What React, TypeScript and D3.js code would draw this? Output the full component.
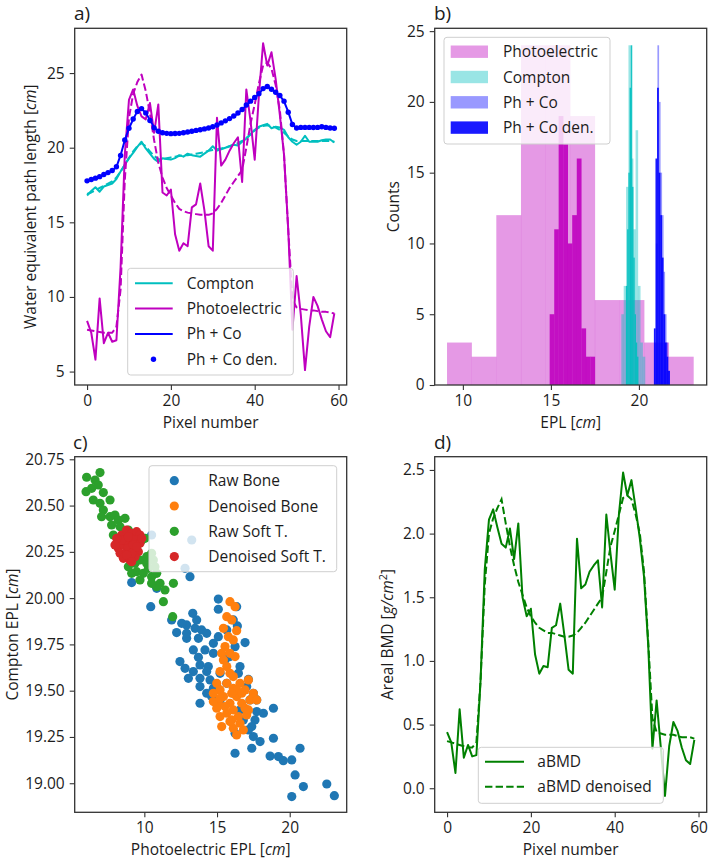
import { useEffect, useRef } from "react";
import * as d3 from "d3";

// ---------- a) / d) profiles along the pixel line ----------
const PIXELS = d3.range(60);

const comptonRaw = [16.8, 17.1, 17.35, 17.05, 17.4, 17.5, 17.6, 17.9, 18.4, 18.85, 19.3, 19.65, 20.05, 20.4, 19.95, 19.6, 19.25, 19.05, 19.3, 19.25,
  19.2, 19.3, 19.5, 19.4, 19.6, 19.5, 19.45, 19.4, 19.6, 19.8, 20.1, 19.8, 19.9, 20.0, 20.1, 20.2, 20.15, 20.4, 20.6, 20.9,
  21.2, 21.4, 21.5, 21.6, 21.3, 21.4, 21.35, 21.2, 20.7, 20.4, 20.2, 20.4, 20.8, 20.4, 20.4, 20.4, 20.5, 20.55, 20.55, 20.35];
const comptonDen = [16.9, 17.0, 17.15, 17.3, 17.45, 17.6, 17.75, 18.0, 18.4, 18.85, 19.3, 19.75, 20.1, 20.3, 20.1, 19.75, 19.45, 19.25, 19.2, 19.3,
  19.35, 19.4, 19.45, 19.5, 19.5, 19.55, 19.6, 19.65, 19.7, 19.8, 19.85, 19.9, 19.95, 20.0, 20.1, 20.2, 20.3, 20.45, 20.65, 20.9,
  21.15, 21.35, 21.45, 21.5, 21.45, 21.35, 21.2, 21.0, 20.75, 20.55, 20.45, 20.45, 20.45, 20.45, 20.45, 20.45, 20.45, 20.45, 20.45, 20.4];
const photoRaw = [8.4, 7.6, 5.8, 9.9, 6.9, 7.6, 7.0, 7.1, 12.0, 19.5, 23.2, 23.9, 22.8, 22.1, 21.9, 23.0, 21.0, 22.9, 17.0, 16.8,
  17.2, 14.2, 13.1, 13.6, 13.4, 16.0, 16.2, 17.6, 15.8, 13.4, 13.1, 22.0, 18.8, 19.2, 19.8, 20.3, 20.7, 17.7, 23.9, 21.8,
  19.2, 23.5, 27.0, 25.5, 26.4, 24.6, 22.2, 19.5, 14.5, 7.8, 11.4, 8.8, 5.1, 8.0, 10.0, 9.4, 8.5, 7.7, 7.3, 8.9];
const photoDen = [7.8, 7.75, 7.7, 7.65, 7.6, 7.6, 7.6, 8.0, 10.5, 17.8, 22.0, 23.6, 24.4, 24.9, 23.8, 22.3, 20.5, 19.0, 18.0, 17.3,
  16.8, 16.3, 15.9, 15.75, 15.65, 15.6, 15.55, 15.5, 15.5, 15.5, 15.6, 15.9, 16.3, 16.8, 17.3, 17.7, 18.1, 18.5, 20.0, 21.6,
  22.9, 24.3, 25.5, 25.7, 25.3, 24.2, 22.5, 19.5, 14.5, 9.8, 9.3, 9.2, 9.15, 9.1, 9.1, 9.05, 9.0, 9.0, 8.95, 8.9];
const phCo = [17.75, 17.85, 17.95, 18.05, 18.2, 18.35, 18.45, 18.7, 19.5, 20.5, 21.3, 21.9, 22.45, 22.6, 22.35, 21.85, 21.35, 21.1, 21.0, 20.95,
  20.95, 20.95, 20.95, 21.0, 21.05, 21.1, 21.15, 21.2, 21.25, 21.3, 21.38, 21.5, 21.65, 21.8, 21.95, 22.1, 22.3, 22.55, 22.85, 23.1,
  23.35, 23.6, 23.95, 24.1, 23.9, 23.7, 23.5, 23.1, 22.4, 21.55, 21.3, 21.35, 21.35, 21.35, 21.35, 21.35, 21.4, 21.35, 21.3, 21.28];
const phCoDen = [17.78, 17.87, 17.96, 18.06, 18.2, 18.33, 18.47, 18.72, 19.48, 20.52, 21.3, 21.92, 22.43, 22.62, 22.33, 21.82, 21.33, 21.1, 21.0, 20.96,
  20.94, 20.95, 20.96, 21.0, 21.05, 21.1, 21.16, 21.2, 21.26, 21.32, 21.4, 21.52, 21.66, 21.8, 21.95, 22.12, 22.32, 22.56, 22.86, 23.12,
  23.37, 23.62, 23.96, 24.1, 23.92, 23.72, 23.5, 23.12, 22.38, 21.55, 21.32, 21.36, 21.36, 21.36, 21.35, 21.36, 21.4, 21.36, 21.32, 21.3];

const abmd = [0.44, 0.36, 0.12, 0.62, 0.24, 0.34, 0.25, 0.26, 0.85, 1.72, 2.11, 2.19, 2.05, 1.92, 1.89, 2.04, 1.8, 2.08, 1.5, 1.35,
  1.41, 1.05, 0.9, 0.96, 0.95, 1.26, 1.28, 1.45, 1.2, 0.93, 0.9, 1.96, 1.57, 1.6, 1.7, 1.75, 1.79, 1.42, 2.15, 1.84,
  1.56, 2.15, 2.48, 2.3, 2.42, 2.2, 1.96, 1.66, 1.12, 0.31, 0.69, 0.32, -0.06, 0.33, 0.52, 0.45, 0.32, 0.22, 0.19, 0.38];
const abmdDen = [0.37, 0.36, 0.35, 0.34, 0.33, 0.32, 0.32, 0.36, 0.85, 1.6, 2.0, 2.12, 2.2, 2.27, 2.08, 1.9, 1.75, 1.62, 1.52, 1.42,
  1.35, 1.3, 1.26, 1.24, 1.22, 1.22, 1.21, 1.2, 1.19, 1.19, 1.2, 1.22, 1.26, 1.3, 1.35, 1.4, 1.45, 1.5, 1.7, 1.9,
  2.02, 2.15, 2.28, 2.3, 2.27, 2.15, 2.0, 1.7, 1.15, 0.55, 0.44, 0.43, 0.42, 0.42, 0.42, 0.41, 0.4, 0.4, 0.4, 0.39];

// ---------- b) histograms (bin edges + counts) ----------
const photoRawEdges = [9.1, 10.5, 11.9, 13.3, 14.7, 16.1, 17.5, 18.9, 20.3, 21.7, 23.1];
const photoRawCounts = [3, 2, 12, 24, 24, 19, 6, 6, 3, 2];
const photoDenEdges = [14.93, 15.19, 15.44, 15.7, 15.96, 16.21, 16.47, 16.73, 16.99, 17.24, 17.5];
const photoDenCounts = [5, 11, 19, 17, 10, 12, 16, 4, 2, 2];
const comptonRawEdges = [19.0, 19.135, 19.27, 19.405, 19.54, 19.675, 19.81, 19.945, 20.08, 20.215, 20.35];
const comptonRawCounts = [5, 7, 14, 24, 16, 11, 18, 7, 3, 2];
const comptonDenEdges = [19.26, 19.33, 19.4, 19.47, 19.54, 19.61, 19.68, 19.75, 19.82, 19.89, 19.96];
const comptonDenCounts = [7, 11, 15, 21, 24, 14, 9, 5, 3, 2];
const phCoRawEdges = [20.88, 20.965, 21.05, 21.135, 21.22, 21.305, 21.39, 21.475, 21.56, 21.645, 21.73];
const phCoRawCounts = [3, 10, 24, 20, 15, 12, 8, 5, 3, 1];
const phCoDenEdges = [20.85, 20.94, 21.03, 21.12, 21.21, 21.3, 21.39, 21.48, 21.57, 21.66, 21.75];
const phCoDenCounts = [4, 16, 21, 15, 12, 9, 5, 3, 2, 1];

// ---------- c) scatter [photoelectric EPL, compton EPL] ----------
const boneRaw: [number, number][] = [
  [10.5, 20.341], [13.26, 20.314], [12.8, 20.161], [13.14, 20.116], [9.13, 20.084], [10.85, 20.053], [10.44, 19.954], [15.09, 19.995],
  [15.09, 19.94], [16.35, 19.954], [13.33, 19.918], [11.88, 19.882], [16.4, 19.85], [12.91, 19.855], [12.22, 19.814], [13.49, 19.837],
  [13.94, 19.828], [14.29, 19.81], [15.09, 19.792], [16.93, 19.76], [13.72, 19.783], [12.91, 19.783], [14.75, 19.756], [14.17, 19.72],
  [13.37, 19.72], [16.24, 19.738], [13.72, 19.68], [12.45, 19.657], [13.83, 19.639], [14.4, 19.63], [12.8, 19.621], [13.37, 19.603],
  [14.29, 19.603], [13.03, 19.567], [13.83, 19.567], [14.52, 19.558], [16.47, 19.594], [17.16, 19.561], [14.75, 19.513], [13.83, 19.432],
  [14.63, 19.468], [17.5, 19.486], [17.73, 19.45], [18.88, 19.405], [17.73, 19.387], [17.61, 19.342], [17.39, 19.306], [16.24, 19.27],
  [17.5, 19.252], [18.88, 19.243], [17.96, 19.225], [17.39, 19.189], [16.24, 19.162], [18.65, 19.147], [19.22, 19.144], [19.56, 19.122],
  [20.14, 19.126], [20.71, 19.189], [20.37, 19.045], [20.94, 18.982], [20.14, 18.928], [22.55, 18.996], [23.07, 18.933], [16.58, 19.63],
  [15.89, 19.684], [15.21, 19.594], [15.67, 19.54], [14.98, 19.522], [16.12, 19.486], [15.21, 19.45], [17.04, 19.522], [16.81, 19.342],
  [16.58, 19.396], [18.19, 19.378], [16.12, 19.882], [15.67, 19.828], [13.6, 19.882], [12.57, 19.864], [14.75, 19.702], [15.55, 19.666],
  [13.83, 19.522], [14.29, 19.486], [12.91, 19.81], [17.16, 19.288], [17.27, 19.45],
];
const boneDen: [number, number][] = [
  [15.89, 19.981], [16.24, 19.954], [15.67, 19.9], [16.01, 19.882], [15.44, 19.837], [16.35, 19.824], [15.78, 19.792], [16.12, 19.774],
  [15.55, 19.738], [16.24, 19.684], [15.32, 19.702], [15.89, 19.702], [15.44, 19.666], [15.67, 19.63], [15.21, 19.603], [15.89, 19.594],
  [16.12, 19.576], [14.98, 19.54], [15.67, 19.54], [16.58, 19.54], [17.16, 19.558], [15.21, 19.504], [16.12, 19.513], [16.93, 19.504],
  [17.5, 19.486], [14.75, 19.486], [15.44, 19.468], [16.35, 19.468], [17.27, 19.45], [15.09, 19.432], [15.89, 19.432], [16.7, 19.432],
  [17.5, 19.459], [14.98, 19.405], [16.12, 19.396], [16.93, 19.405], [15.67, 19.378], [16.47, 19.36], [17.04, 19.369], [15.21, 19.36],
  [16.01, 19.342], [16.58, 19.324], [15.32, 19.306], [16.12, 19.297], [16.81, 19.288], [16.35, 19.261], [15.89, 19.333], [17.16, 19.396],
  [17.73, 19.45], [14.75, 19.441], [15.55, 19.414], [16.35, 19.504], [16.7, 19.486], [16.01, 19.486], [15.21, 19.459],
];
const softRaw: [number, number][] = [
  [6.03, 20.653], [6.61, 20.638], [6.95, 20.678], [5.99, 20.575], [6.38, 20.593], [6.83, 20.611], [7.18, 20.57], [6.49, 20.53],
  [6.95, 20.512], [7.64, 20.53], [7.18, 20.476], [7.06, 20.44], [7.64, 20.44], [7.98, 20.449], [8.21, 20.422], [8.67, 20.431],
  [7.75, 20.395], [8.33, 20.386], [8.9, 20.368], [7.87, 20.341], [8.56, 20.35], [9.13, 20.323], [9.47, 20.287], [9.82, 20.314],
  [10.05, 20.323], [9.24, 20.242], [9.7, 20.206], [10.16, 20.188], [10.62, 20.206], [10.73, 20.17], [9.47, 20.143], [9.93, 20.134],
  [10.5, 20.116], [11.08, 20.08], [10.85, 20.062], [11.42, 20.044], [11.31, 19.981], [12.0, 20.08], [11.95, 19.9], [10.16, 20.224],
  [9.13, 20.134], [9.7, 20.098], [10.5, 20.08], [10.28, 20.161], [10.85, 20.134], [8.9, 20.17], [9.36, 20.188], [10.5, 20.242],
];
const softDen: [number, number][] = [
  [8.1, 20.296], [8.44, 20.341], [8.78, 20.368], [9.13, 20.35], [9.47, 20.359], [9.7, 20.341], [8.21, 20.269], [8.6, 20.287],
  [9.01, 20.314], [9.36, 20.314], [9.7, 20.296], [8.33, 20.242], [8.78, 20.251], [9.24, 20.26], [9.59, 20.251], [8.56, 20.215],
  [9.01, 20.206], [9.36, 20.224], [8.9, 20.278], [8.67, 20.314], [9.24, 20.287], [8.44, 20.314], [8.1, 20.323], [9.13, 20.242],
  [9.47, 20.278], [8.78, 20.233], [9.13, 20.197], [9.82, 20.323], [7.98, 20.287], [8.9, 20.332],
];

const FONT = "'Open Sans', 'DejaVu Sans', sans-serif";
const FS = 15.5;
const AX = "#333333";
const TXT = "#1c1c1c";
const C = "#00bfbf";
const M = "#bf00bf";
const B = "#0000ff";
const GREEN = "#008000";
const DASH = "7.4,3.2";

type Box = { l: number; r: number; t: number; b: number };
const BOX_A: Box = { l: 74.7, r: 346.7, t: 28.3, b: 385 };
const BOX_B: Box = { l: 434.7, r: 706.7, t: 28.3, b: 385 };
const BOX_C: Box = { l: 74.7, r: 346.7, t: 456.7, b: 812.3 };
const BOX_D: Box = { l: 434.7, r: 706.7, t: 456.7, b: 812.3 };

type Sel = d3.Selection<SVGGElement, unknown, null, undefined>;
type Lin = d3.ScaleLinear<number, number>;

function styleAxis(a: Sel) {
  a.select(".domain").remove();
  a.selectAll("line").attr("stroke", AX).attr("stroke-width", 1.1);
  a.selectAll("text").attr("fill", TXT).style("font-size", `${FS}px`).style("font-family", FONT);
}

function axes(g: Sel, box: Box, x: Lin, y: Lin, xTicks: number[], yTicks: number[], yFmt: (d: number) => string) {
  g.append("g")
    .attr("transform", `translate(0,${box.b})`)
    .call(d3.axisBottom(x).tickValues(xTicks).tickSize(5).tickSizeOuter(0).tickPadding(5).tickFormat((d) => String(d)))
    .call(styleAxis);
  g.append("g")
    .attr("transform", `translate(${box.l},0)`)
    .call(d3.axisLeft(y).tickValues(yTicks).tickSize(5).tickSizeOuter(0).tickPadding(5).tickFormat((d) => yFmt(d as number)))
    .call(styleAxis);
  g.append("rect")
    .attr("x", box.l).attr("y", box.t)
    .attr("width", box.r - box.l).attr("height", box.b - box.t)
    .attr("fill", "none").attr("stroke", AX).attr("stroke-width", 1.3);
}

// text built from [string, italic?, superscript?] parts
function label(g: Sel, x: number, y: number, parts: [string, boolean?, boolean?][], rotate = false, size = FS) {
  const t = g.append("text")
    .attr("transform", `translate(${x},${y})${rotate ? " rotate(-90)" : ""}`)
    .attr("text-anchor", "middle")
    .attr("fill", TXT)
    .style("font-family", FONT)
    .style("font-size", `${size}px`);
  let up = false;
  parts.forEach(([s, it, sup]) => {
    const ts = t.append("tspan").text(s);
    if (it) ts.style("font-style", "italic");
    if (sup) { ts.attr("dy", -6).style("font-size", `${size * 0.7}px`); up = true; }
    else if (up) { ts.attr("dy", 6); up = false; }
  });
}

function legendBox(g: Sel, x: number, y: number, w: number, h: number) {
  g.append("rect")
    .attr("x", x).attr("y", y).attr("width", w).attr("height", h).attr("rx", 3)
    .attr("fill", "white").attr("fill-opacity", 0.8)
    .attr("stroke", "#cfcfcf").attr("stroke-width", 1);
}

function legendText(g: Sel, x: number, y: number, s: string) {
  g.append("text").attr("x", x).attr("y", y).attr("dy", "0.36em")
    .attr("fill", TXT).style("font-family", FONT).style("font-size", `${FS}px`).text(s);
}

function hist(g: Sel, x: Lin, y: Lin, edges: number[], counts: number[], color: string, alpha: number) {
  g.append("g")
    .selectAll("rect")
    .data(counts)
    .join("rect")
    .attr("x", (_, i) => x(edges[i]))
    .attr("width", (_, i) => x(edges[i + 1]) - x(edges[i]) + 0.2)
    .attr("y", (d) => y(d))
    .attr("height", (d) => y(0) - y(d))
    .attr("fill", color)
    .attr("fill-opacity", alpha);
}

export default function App() {
  const svgRef = useRef<SVGSVGElement>(null);

  useEffect(() => {
    if (!svgRef.current) return;
    const svg = d3.select(svgRef.current);
    svg.selectAll("*").remove();
    const root = svg.append("g") as unknown as Sel;

    // ---------------- a) ----------------
    const a = root.append("g") as Sel;
    const xA = d3.scaleLinear().domain([-2.95, 61.95]).range([BOX_A.l, BOX_A.r]);
    const yA = d3.scaleLinear().domain([4.1, 28.0]).range([BOX_A.b, BOX_A.t]);
    const lineA = d3.line<number>().x((_, i) => xA(PIXELS[i])).y((d) => yA(d));
    const series: [number[], string, boolean][] = [
      [comptonRaw, C, false], [comptonDen, C, true],
      [photoRaw, M, false], [photoDen, M, true],
      [phCo, B, false],
    ];
    series.forEach(([vals, col, dashed]) => {
      a.append("path").attr("d", lineA(vals)).attr("fill", "none")
        .attr("stroke", col).attr("stroke-width", 2)
        .attr("stroke-linejoin", "round")
        .attr("stroke-dasharray", dashed ? DASH : null);
    });
    a.append("g").selectAll("circle").data(phCoDen).join("circle")
      .attr("cx", (_, i) => xA(PIXELS[i])).attr("cy", (d) => yA(d)).attr("r", 2.7).attr("fill", B);
    axes(a, BOX_A, xA, yA, [0, 20, 40, 60], [5, 10, 15, 20, 25], (d) => String(d));
    legendBox(a, 127.7, 268.3, 165.6, 106.7);
    const legA: [string, string][] = [["Compton", C], ["Photoelectric", M], ["Ph + Co", B]];
    legA.forEach(([s, col], i) => {
      const yy = 283.3 + i * 25.3;
      a.append("line").attr("x1", 135).attr("x2", 172.7).attr("y1", yy).attr("y2", yy)
        .attr("stroke", col).attr("stroke-width", 2);
      legendText(a, 186.7, yy, s);
    });
    a.append("circle").attr("cx", 153.5).attr("cy", 359.3).attr("r", 2.7).attr("fill", B);
    legendText(a, 186.7, 359.3, "Ph + Co den.");
    label(a, 210.7, 428, [["Pixel number"]]);
    label(a, 36, 206.7, [["Water equivalent path length ["], ["cm", true], ["]"]], true);

    // ---------------- b) ----------------
    const b = root.append("g") as Sel;
    const xB = d3.scaleLinear().domain([8.4, 23.85]).range([BOX_B.l, BOX_B.r]);
    const yB = d3.scaleLinear().domain([0, 25.2]).range([BOX_B.b, BOX_B.t]);
    hist(b, xB, yB, photoRawEdges, photoRawCounts, M, 0.4);
    hist(b, xB, yB, photoDenEdges, photoDenCounts, M, 0.9);
    hist(b, xB, yB, comptonRawEdges, comptonRawCounts, C, 0.4);
    hist(b, xB, yB, comptonDenEdges, comptonDenCounts, C, 0.9);
    hist(b, xB, yB, phCoRawEdges, phCoRawCounts, B, 0.4);
    hist(b, xB, yB, phCoDenEdges, phCoDenCounts, B, 0.9);
    axes(b, BOX_B, xB, yB, [10, 15, 20], [0, 5, 10, 15, 20, 25], (d) => String(d));
    legendBox(b, 444, 37.3, 166, 106.7);
    const legB: [string, string, number][] = [["Photoelectric", M, 0.4], ["Compton", C, 0.4], ["Ph + Co", B, 0.4], ["Ph + Co den.", B, 0.9]];
    legB.forEach(([s, col, al], i) => {
      const yy = 51.7 + i * 25.3;
      b.append("rect").attr("x", 450.7).attr("y", yy - 6.2).attr("width", 37.3).attr("height", 12.4)
        .attr("fill", col).attr("fill-opacity", al);
      legendText(b, 503, yy, s);
    });
    label(b, 570.7, 428, [["EPL ["], ["cm", true], ["]"]]);
    label(b, 398.5, 206.7, [["Counts"]], true);

    // ---------------- c) ----------------
    const c = root.append("g") as Sel;
    const xC = d3.scaleLinear().domain([5.21, 23.92]).range([BOX_C.l, BOX_C.r]);
    const yC = d3.scaleLinear().domain([18.843, 20.764]).range([BOX_C.b, BOX_C.t]);
    const groups: [[number, number][], string, string][] = [
      [boneRaw, "#1f77b4", "Raw Bone"],
      [boneDen, "#ff7f0e", "Denoised Bone"],
      [softRaw, "#2ca02c", "Raw Soft T."],
      [softDen, "#d62728", "Denoised Soft T."],
    ];
    groups.forEach(([pts, col]) => {
      c.append("g").selectAll("circle").data(pts).join("circle")
        .attr("cx", (d) => xC(d[0])).attr("cy", (d) => yC(d[1])).attr("r", 4.6).attr("fill", col);
    });
    axes(c, BOX_C, xC, yC, [10, 15, 20], [19.0, 19.25, 19.5, 19.75, 20.0, 20.25, 20.5, 20.75], (d) => d.toFixed(2));
    legendBox(c, 149, 465.7, 187.7, 106);
    groups.forEach(([, col, s], i) => {
      const yy = 480.7 + i * 25.3;
      c.append("circle").attr("cx", 174.3).attr("cy", yy).attr("r", 4.6).attr("fill", col);
      legendText(c, 208.3, yy, s);
    });
    label(c, 210.7, 855, [["Photoelectric EPL ["], ["cm", true], ["]"]]);
    label(c, 17.5, 634.5, [["Compton EPL ["], ["cm", true], ["]"]], true);

    // ---------------- d) ----------------
    const d = root.append("g") as Sel;
    const xD = d3.scaleLinear().domain([-2.95, 61.95]).range([BOX_D.l, BOX_D.r]);
    const yD = d3.scaleLinear().domain([-0.189, 2.604]).range([BOX_D.b, BOX_D.t]);
    const lineD = d3.line<number>().x((_, i) => xD(PIXELS[i])).y((v) => yD(v));
    d.append("path").attr("d", lineD(abmd)).attr("fill", "none").attr("stroke", GREEN).attr("stroke-width", 2).attr("stroke-linejoin", "round");
    d.append("path").attr("d", lineD(abmdDen)).attr("fill", "none").attr("stroke", GREEN).attr("stroke-width", 2).attr("stroke-dasharray", DASH);
    axes(d, BOX_D, xD, yD, [0, 20, 40, 60], [0, 0.5, 1, 1.5, 2, 2.5], (v) => v.toFixed(1));
    legendBox(d, 478.3, 747.3, 185, 56);
    [["aBMD", null], ["aBMD denoised", DASH]].forEach(([s, da], i) => {
      const yy = 761.7 + i * 25;
      d.append("line").attr("x1", 485).attr("x2", 524).attr("y1", yy).attr("y2", yy)
        .attr("stroke", GREEN).attr("stroke-width", 2).attr("stroke-dasharray", da);
      legendText(d, 537.3, yy, s as string);
    });
    label(d, 570.7, 855, [["Pixel number"]]);
    label(d, 392.5, 634.5, [["Areal BMD ["], ["g/cm", true], ["2", false, true], ["]"]], true);

    // panel letters
    [["a)", 74, 19.5], ["b)", 434, 19.5], ["c)", 73, 449], ["d)", 434, 449]].forEach(([s, x, y]) => {
      root.append("text").attr("x", x as number).attr("y", y as number).attr("fill", TXT)
        .style("font-family", FONT).style("font-size", "19px").text(s as string);
    });
  }, []);

  return (
    <div style={{ position: "absolute", left: 0, top: 0, width: 708, height: 861, background: "white" }}>
      <svg ref={svgRef} width={708} height={861} style={{ display: "block" }} />
    </div>
  );
}
